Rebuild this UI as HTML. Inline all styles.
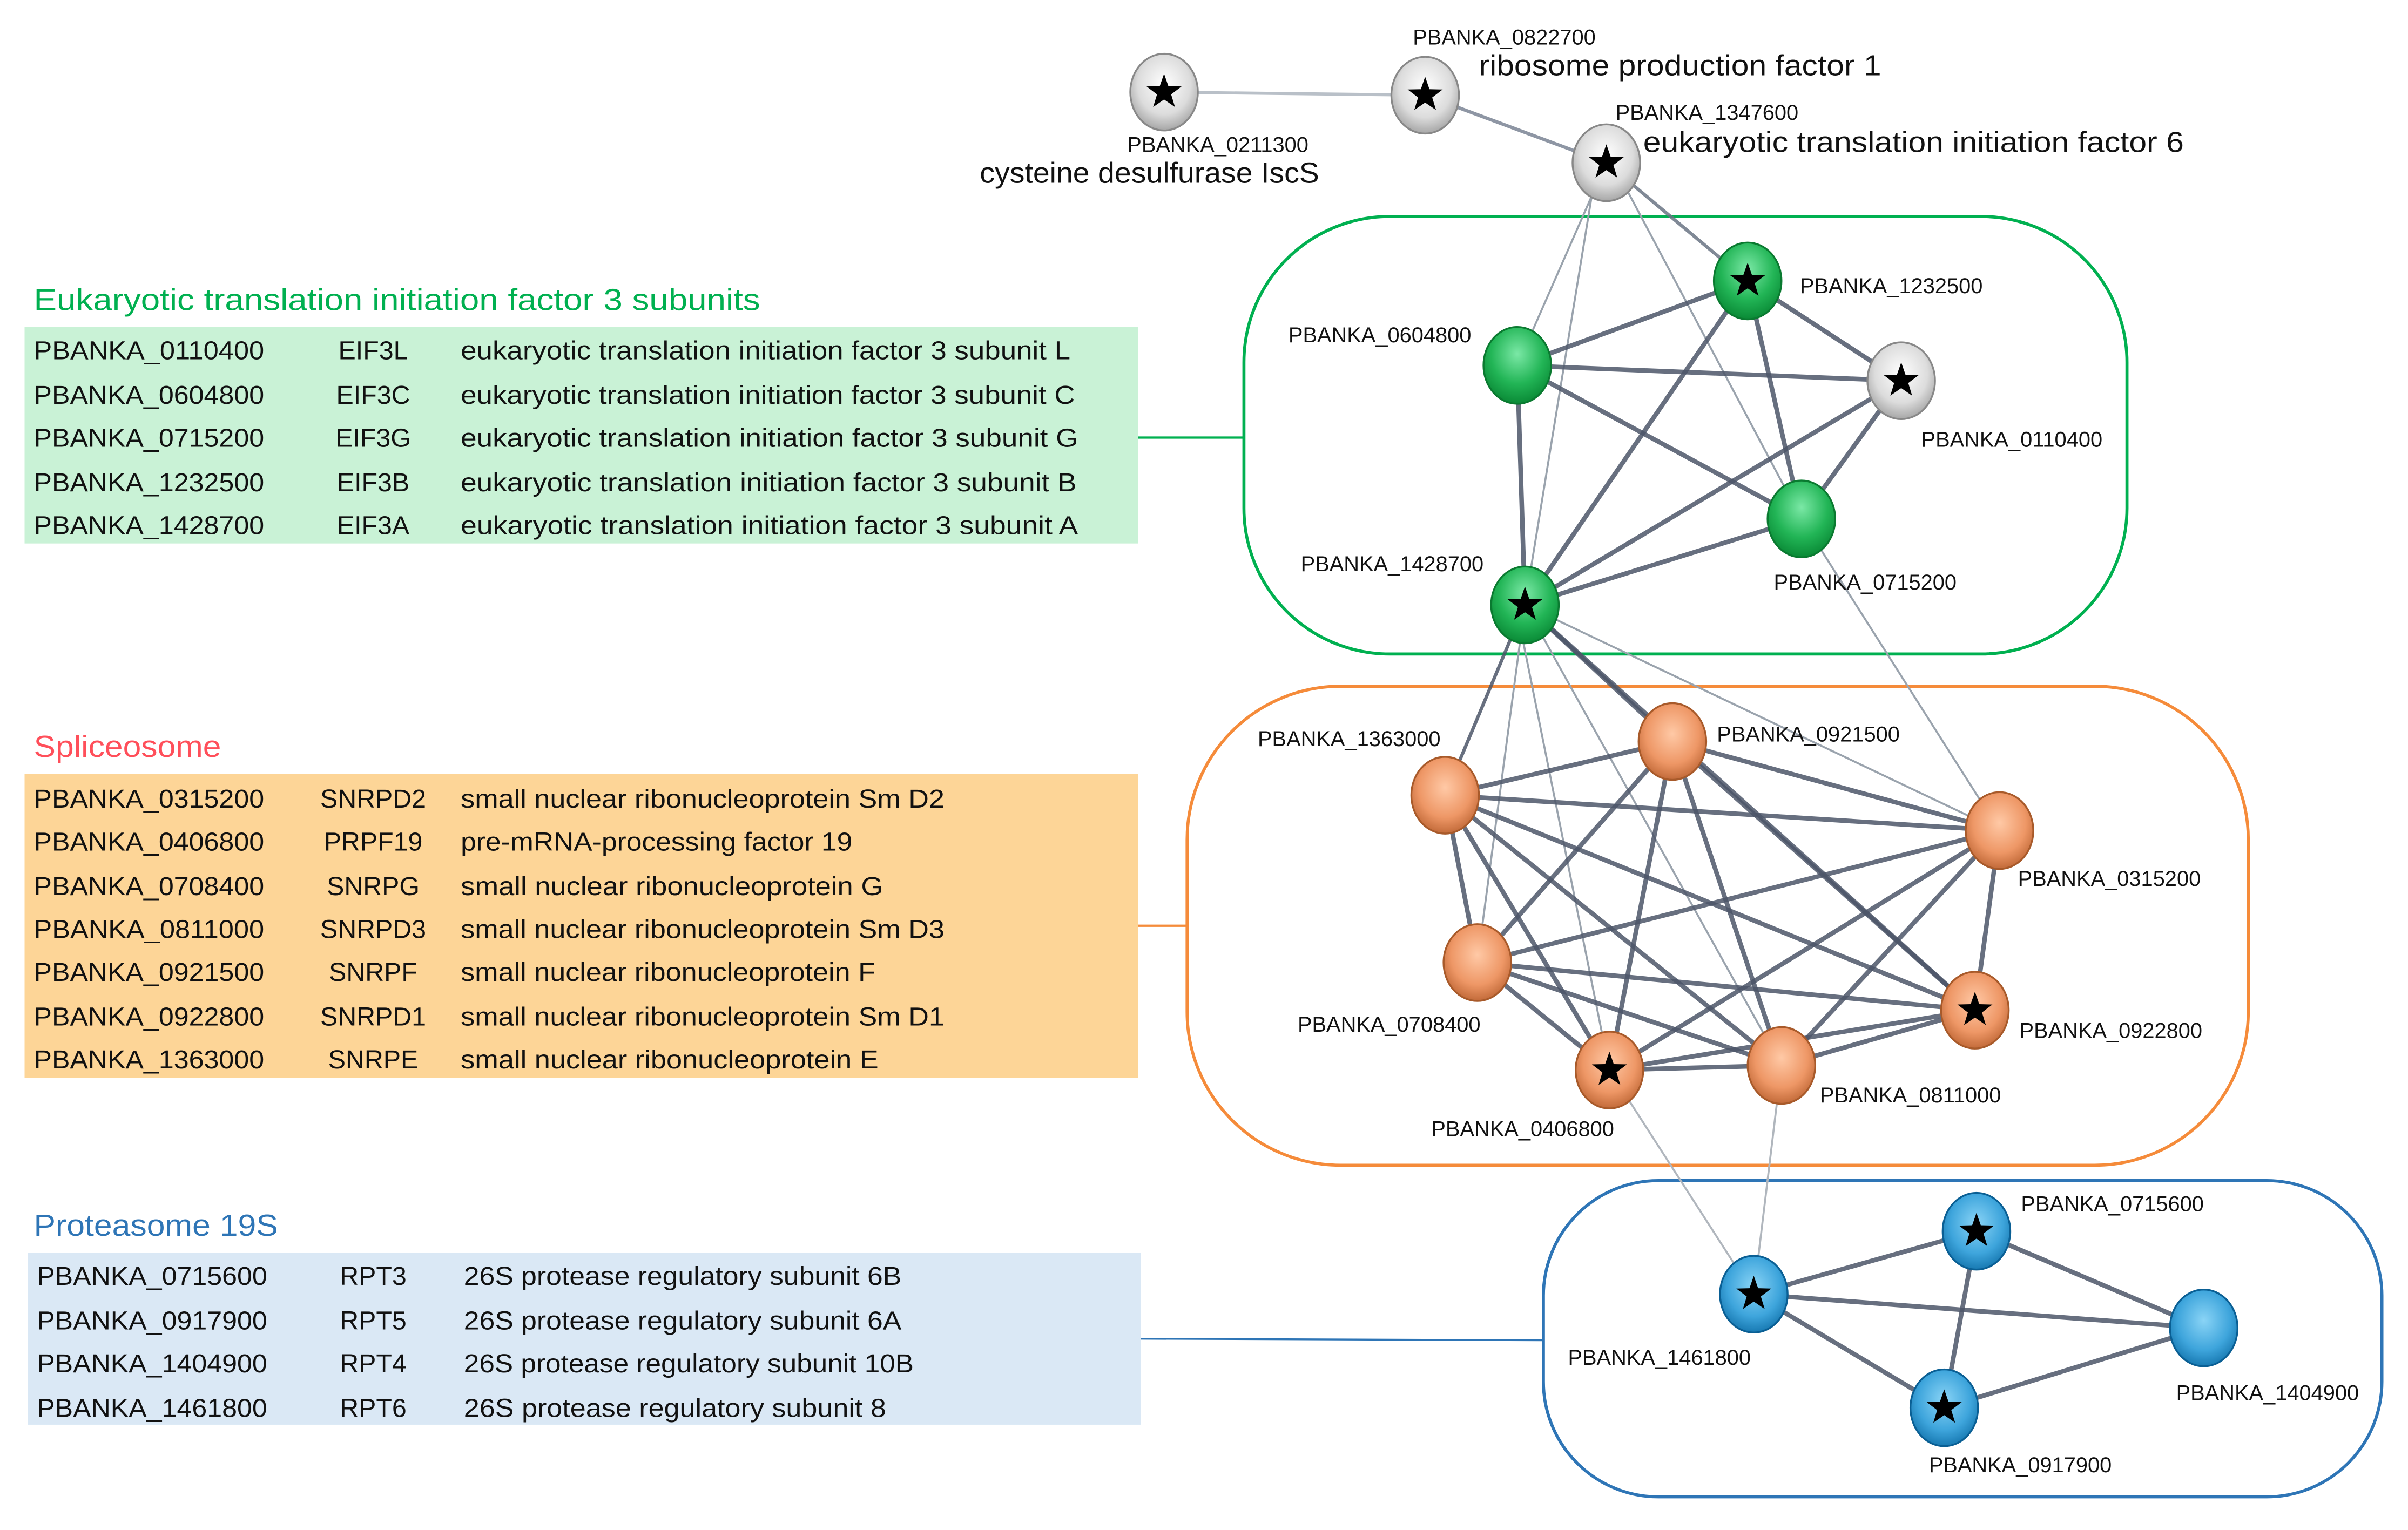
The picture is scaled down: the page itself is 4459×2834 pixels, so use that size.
<!DOCTYPE html>
<html><head><meta charset="utf-8"><style>html,body{margin:0;padding:0;background:#fff}svg{display:block}</style></head>
<body>
<svg xmlns="http://www.w3.org/2000/svg" width="4459" height="2834" viewBox="0 0 1568 996.6" preserveAspectRatio="none">
<defs>
<radialGradient id="gG" cx="50%" cy="35%" r="65%"><stop offset="0" stop-color="#7be8a6"/><stop offset="0.6" stop-color="#22b556"/><stop offset="1" stop-color="#0a8a36"/></radialGradient>
<radialGradient id="gW" cx="50%" cy="40%" r="65%"><stop offset="0" stop-color="#ffffff"/><stop offset="0.6" stop-color="#dcdcdc"/><stop offset="1" stop-color="#9a9a9a"/></radialGradient>
<radialGradient id="gO" cx="50%" cy="40%" r="65%"><stop offset="0" stop-color="#ffc9a6"/><stop offset="0.6" stop-color="#ee9766"/><stop offset="1" stop-color="#b8602f"/></radialGradient>
<radialGradient id="gB" cx="50%" cy="40%" r="65%"><stop offset="0" stop-color="#8ad4f6"/><stop offset="0.6" stop-color="#3ea5dc"/><stop offset="1" stop-color="#0f6fa8"/></radialGradient>
<path id="star" d="M0,-12 L2.8,-3.9 L11.4,-3.7 L4.6,1.5 L7.1,9.7 L0,4.8 L-7.1,9.7 L-4.6,1.5 L-11.4,-3.7 L-2.8,-3.9 Z" fill="#000"/>
</defs>

<g font-family="Liberation Sans, sans-serif">
<text x="22" y="202" font-size="20" fill="#00b050" textLength="473" lengthAdjust="spacingAndGlyphs">Eukaryotic translation initiation factor 3 subunits</text>
<rect x="16" y="213" width="725" height="141" fill="#c9f2d6"/>
<g font-size="17" fill="#111">
<text x="22" y="234" textLength="150" lengthAdjust="spacingAndGlyphs">PBANKA_0110400</text><text x="243" y="234" text-anchor="middle">EIF3L</text><text x="300" y="234" textLength="397" lengthAdjust="spacingAndGlyphs">eukaryotic translation initiation factor 3 subunit L</text>
<text x="22" y="263" textLength="150" lengthAdjust="spacingAndGlyphs">PBANKA_0604800</text><text x="243" y="263" text-anchor="middle">EIF3C</text><text x="300" y="263" textLength="400" lengthAdjust="spacingAndGlyphs">eukaryotic translation initiation factor 3 subunit C</text>
<text x="22" y="291" textLength="150" lengthAdjust="spacingAndGlyphs">PBANKA_0715200</text><text x="243" y="291" text-anchor="middle">EIF3G</text><text x="300" y="291" textLength="402" lengthAdjust="spacingAndGlyphs">eukaryotic translation initiation factor 3 subunit G</text>
<text x="22" y="320" textLength="150" lengthAdjust="spacingAndGlyphs">PBANKA_1232500</text><text x="243" y="320" text-anchor="middle">EIF3B</text><text x="300" y="320" textLength="401" lengthAdjust="spacingAndGlyphs">eukaryotic translation initiation factor 3 subunit B</text>
<text x="22" y="348" textLength="150" lengthAdjust="spacingAndGlyphs">PBANKA_1428700</text><text x="243" y="348" text-anchor="middle">EIF3A</text><text x="300" y="348" textLength="402" lengthAdjust="spacingAndGlyphs">eukaryotic translation initiation factor 3 subunit A</text>
</g>
<line x1="741" y1="285" x2="810" y2="285" stroke="#00b050" stroke-width="1.5"/>

<text x="22" y="493" font-size="20" fill="#ff4f5a" textLength="122" lengthAdjust="spacingAndGlyphs">Spliceosome</text>
<rect x="16" y="504" width="725" height="198" fill="#fdd597"/>
<g font-size="17" fill="#111">
<text x="22" y="526" textLength="150" lengthAdjust="spacingAndGlyphs">PBANKA_0315200</text><text x="243" y="526" text-anchor="middle">SNRPD2</text><text x="300" y="526" textLength="315" lengthAdjust="spacingAndGlyphs">small nuclear ribonucleoprotein Sm D2</text>
<text x="22" y="554" textLength="150" lengthAdjust="spacingAndGlyphs">PBANKA_0406800</text><text x="243" y="554" text-anchor="middle">PRPF19</text><text x="300" y="554" textLength="255" lengthAdjust="spacingAndGlyphs">pre-mRNA-processing factor 19</text>
<text x="22" y="583" textLength="150" lengthAdjust="spacingAndGlyphs">PBANKA_0708400</text><text x="243" y="583" text-anchor="middle">SNRPG</text><text x="300" y="583" textLength="275" lengthAdjust="spacingAndGlyphs">small nuclear ribonucleoprotein G</text>
<text x="22" y="611" textLength="150" lengthAdjust="spacingAndGlyphs">PBANKA_0811000</text><text x="243" y="611" text-anchor="middle">SNRPD3</text><text x="300" y="611" textLength="315" lengthAdjust="spacingAndGlyphs">small nuclear ribonucleoprotein Sm D3</text>
<text x="22" y="639" textLength="150" lengthAdjust="spacingAndGlyphs">PBANKA_0921500</text><text x="243" y="639" text-anchor="middle">SNRPF</text><text x="300" y="639" textLength="270" lengthAdjust="spacingAndGlyphs">small nuclear ribonucleoprotein F</text>
<text x="22" y="668" textLength="150" lengthAdjust="spacingAndGlyphs">PBANKA_0922800</text><text x="243" y="668" text-anchor="middle">SNRPD1</text><text x="300" y="668" textLength="315" lengthAdjust="spacingAndGlyphs">small nuclear ribonucleoprotein Sm D1</text>
<text x="22" y="696" textLength="150" lengthAdjust="spacingAndGlyphs">PBANKA_1363000</text><text x="243" y="696" text-anchor="middle">SNRPE</text><text x="300" y="696" textLength="272" lengthAdjust="spacingAndGlyphs">small nuclear ribonucleoprotein E</text>
</g>
<line x1="741" y1="603" x2="773" y2="603" stroke="#f58b3a" stroke-width="1.5"/>

<text x="22" y="805" font-size="20" fill="#2e75b6" textLength="159" lengthAdjust="spacingAndGlyphs">Proteasome 19S</text>
<rect x="18" y="816" width="725" height="112" fill="#dae8f5"/>
<g font-size="17" fill="#111">
<text x="24" y="837" textLength="150" lengthAdjust="spacingAndGlyphs">PBANKA_0715600</text><text x="243" y="837" text-anchor="middle">RPT3</text><text x="302" y="837" textLength="285" lengthAdjust="spacingAndGlyphs">26S protease regulatory subunit 6B</text>
<text x="24" y="866" textLength="150" lengthAdjust="spacingAndGlyphs">PBANKA_0917900</text><text x="243" y="866" text-anchor="middle">RPT5</text><text x="302" y="866" textLength="285" lengthAdjust="spacingAndGlyphs">26S protease regulatory subunit 6A</text>
<text x="24" y="894" textLength="150" lengthAdjust="spacingAndGlyphs">PBANKA_1404900</text><text x="243" y="894" text-anchor="middle">RPT4</text><text x="302" y="894" textLength="293" lengthAdjust="spacingAndGlyphs">26S protease regulatory subunit 10B</text>
<text x="24" y="923" textLength="150" lengthAdjust="spacingAndGlyphs">PBANKA_1461800</text><text x="243" y="923" text-anchor="middle">RPT6</text><text x="302" y="923" textLength="275" lengthAdjust="spacingAndGlyphs">26S protease regulatory subunit 8</text>
</g>
<line x1="743" y1="872" x2="1005" y2="873" stroke="#2e75b6" stroke-width="1.2"/>
</g>

<rect x="810" y="141" width="575" height="285" rx="95" fill="none" stroke="#00b050" stroke-width="2"/>
<rect x="773" y="447" width="691" height="312" rx="100" fill="none" stroke="#f58b3a" stroke-width="2"/>
<rect x="1005" y="769" width="546" height="206" rx="75" fill="none" stroke="#2e75b6" stroke-width="2"/>

<g stroke="#9aa3ad" stroke-width="1.3" fill="none">
<line x1="758" y1="60" x2="928" y2="62" stroke="#b9c0c8" stroke-width="2"/>
<line x1="1046" y1="106" x2="988" y2="238"/>
<line x1="1040" y1="106" x2="993" y2="394"/>
<line x1="1050" y1="106" x2="1173" y2="338"/>
<line x1="1173" y1="338" x2="1302" y2="541"/>
<line x1="993" y1="394" x2="1302" y2="541"/>
<line x1="993" y1="394" x2="962" y2="627"/>
<line x1="987" y1="394" x2="1048" y2="697"/>
<line x1="993" y1="394" x2="1160" y2="694"/>
<line x1="1048" y1="697" x2="1142" y2="843" stroke="#b0b6bd"/>
<line x1="1160" y1="694" x2="1142" y2="843" stroke="#b0b6bd"/>
</g>
<g stroke="#4c5668" stroke-width="3" stroke-opacity="0.85" fill="none">
<line x1="928" y1="62" x2="1046" y2="106" stroke="#7a8494" stroke-width="2.2"/>
<line x1="1046" y1="106" x2="1138" y2="183" stroke="#6a7484" stroke-width="2.2"/>
<line x1="988" y1="238" x2="1138" y2="183"/>
<line x1="988" y1="238" x2="1238" y2="248"/>
<line x1="988" y1="238" x2="1173" y2="338"/>
<line x1="988" y1="238" x2="993" y2="394"/>
<line x1="1138" y1="183" x2="1238" y2="248"/>
<line x1="1138" y1="183" x2="1173" y2="338"/>
<line x1="1138" y1="183" x2="993" y2="394"/>
<line x1="1238" y1="248" x2="993" y2="394"/>
<line x1="1238" y1="248" x2="1173" y2="338"/>
<line x1="1173" y1="338" x2="993" y2="394"/>
<line x1="993" y1="394" x2="941" y2="518" stroke-width="2.2"/>
<line x1="993" y1="394" x2="1089" y2="483"/>
<line x1="993" y1="394" x2="1286" y2="658"/>
<line x1="941" y1="518" x2="1089" y2="483"/>
<line x1="941" y1="518" x2="1302" y2="541"/>
<line x1="941" y1="518" x2="962" y2="627"/>
<line x1="941" y1="518" x2="1286" y2="658"/>
<line x1="941" y1="518" x2="1048" y2="697"/>
<line x1="941" y1="518" x2="1160" y2="694"/>
<line x1="1089" y1="483" x2="1302" y2="541"/>
<line x1="1089" y1="483" x2="962" y2="627"/>
<line x1="1089" y1="483" x2="1286" y2="658"/>
<line x1="1089" y1="483" x2="1048" y2="697"/>
<line x1="1089" y1="483" x2="1160" y2="694"/>
<line x1="1302" y1="541" x2="962" y2="627"/>
<line x1="1302" y1="541" x2="1286" y2="658"/>
<line x1="1302" y1="541" x2="1048" y2="697"/>
<line x1="1302" y1="541" x2="1160" y2="694"/>
<line x1="962" y1="627" x2="1286" y2="658"/>
<line x1="962" y1="627" x2="1048" y2="697"/>
<line x1="962" y1="627" x2="1160" y2="694"/>
<line x1="1286" y1="658" x2="1048" y2="697"/>
<line x1="1286" y1="658" x2="1160" y2="694"/>
<line x1="1048" y1="697" x2="1160" y2="694"/>
<line x1="1142" y1="843" x2="1287" y2="802"/>
<line x1="1142" y1="843" x2="1435" y2="865"/>
<line x1="1142" y1="843" x2="1266" y2="917"/>
<line x1="1287" y1="802" x2="1266" y2="917"/>
<line x1="1287" y1="802" x2="1435" y2="865"/>
<line x1="1266" y1="917" x2="1435" y2="865"/>
</g>

<g stroke-width="1.2">
<g stroke="#888"><ellipse cx="758" cy="60" rx="22" ry="25" fill="url(#gW)"/><ellipse cx="928" cy="62" rx="22" ry="25" fill="url(#gW)"/><ellipse cx="1046" cy="106" rx="22" ry="25" fill="url(#gW)"/><ellipse cx="1238" cy="248" rx="22" ry="25" fill="url(#gW)"/></g>
<g stroke="#0a7a30"><ellipse cx="1138" cy="183" rx="22" ry="25" fill="url(#gG)"/><ellipse cx="988" cy="238" rx="22" ry="25" fill="url(#gG)"/><ellipse cx="1173" cy="338" rx="22" ry="25" fill="url(#gG)"/><ellipse cx="993" cy="394" rx="22" ry="25" fill="url(#gG)"/></g>
<g stroke="#a85a2a"><ellipse cx="941" cy="518" rx="22" ry="25" fill="url(#gO)"/><ellipse cx="1089" cy="483" rx="22" ry="25" fill="url(#gO)"/><ellipse cx="1302" cy="541" rx="22" ry="25" fill="url(#gO)"/><ellipse cx="962" cy="627" rx="22" ry="25" fill="url(#gO)"/><ellipse cx="1286" cy="658" rx="22" ry="25" fill="url(#gO)"/><ellipse cx="1048" cy="697" rx="22" ry="25" fill="url(#gO)"/><ellipse cx="1160" cy="694" rx="22" ry="25" fill="url(#gO)"/></g>
<g stroke="#0a5f94"><ellipse cx="1142" cy="843" rx="22" ry="25" fill="url(#gB)"/><ellipse cx="1287" cy="802" rx="22" ry="25" fill="url(#gB)"/><ellipse cx="1435" cy="865" rx="22" ry="25" fill="url(#gB)"/><ellipse cx="1266" cy="917" rx="22" ry="25" fill="url(#gB)"/></g>
</g>
<use href="#star" x="758" y="60"/><use href="#star" x="928" y="62"/><use href="#star" x="1046" y="106"/><use href="#star" x="1238" y="248"/>
<use href="#star" x="1138" y="183"/><use href="#star" x="993" y="394"/>
<use href="#star" x="1286" y="658"/><use href="#star" x="1048" y="697"/>
<use href="#star" x="1142" y="843"/><use href="#star" x="1287" y="802"/><use href="#star" x="1266" y="917"/>

<g font-family="Liberation Sans, sans-serif" font-size="14" fill="#111">
<text x="920" y="29">PBANKA_0822700</text>
<text x="734" y="99">PBANKA_0211300</text>
<text x="1052" y="78">PBANKA_1347600</text>
<text x="1172" y="191">PBANKA_1232500</text>
<text x="839" y="223">PBANKA_0604800</text>
<text x="1251" y="291">PBANKA_0110400</text>
<text x="847" y="372">PBANKA_1428700</text>
<text x="1155" y="384">PBANKA_0715200</text>
<text x="819" y="486">PBANKA_1363000</text>
<text x="1118" y="483">PBANKA_0921500</text>
<text x="1314" y="577">PBANKA_0315200</text>
<text x="845" y="672">PBANKA_0708400</text>
<text x="1315" y="676">PBANKA_0922800</text>
<text x="932" y="740">PBANKA_0406800</text>
<text x="1185" y="718">PBANKA_0811000</text>
<text x="1316" y="789">PBANKA_0715600</text>
<text x="1021" y="889">PBANKA_1461800</text>
<text x="1417" y="912">PBANKA_1404900</text>
<text x="1256" y="959">PBANKA_0917900</text>
</g>
<g font-family="Liberation Sans, sans-serif" font-size="19" fill="#111">
<text x="963" y="49" textLength="262" lengthAdjust="spacingAndGlyphs">ribosome production factor 1</text>
<text x="638" y="119" textLength="221" lengthAdjust="spacingAndGlyphs">cysteine desulfurase IscS</text>
<text x="1070" y="99" textLength="352" lengthAdjust="spacingAndGlyphs">eukaryotic translation initiation factor 6</text>
</g>
</svg>
</body></html>
